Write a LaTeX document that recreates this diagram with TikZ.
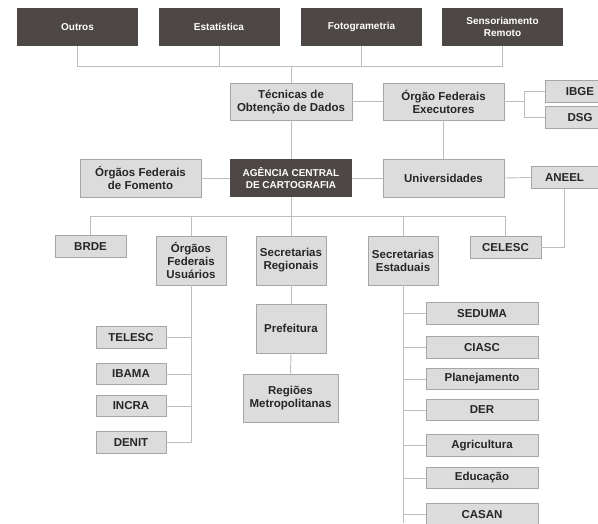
\documentclass[tikz,border=0pt]{standalone}
\usepackage{fontspec}
\setmainfont{Liberation Sans}
\usepackage{tikz}

\definecolor{boxdark}{HTML}{4D4846}
\definecolor{boxlight}{HTML}{DCDCDC}
\definecolor{boxedge}{HTML}{A6A6A6}
\definecolor{linegray}{HTML}{BDBDBD}
\definecolor{textdark}{HTML}{262626}

\tikzset{
  darkbox/.style={fill=boxdark, draw=none, text=white, align=center, inner sep=0pt,
    font=\bfseries\fontsize{10}{11.7}\selectfont, minimum width=121pt, minimum height=38pt},
  lightbox/.style={fill=boxlight, draw=boxedge, line width=0.8pt, text=textdark, align=center,
    inner sep=0pt, font=\bfseries\fontsize{11.5}{13}\selectfont},
  smallbox/.style={lightbox, minimum width=70pt, minimum height=21.5pt},
  link/.style={draw=linegray, line width=0.9pt}
}

\begin{document}
\begin{tikzpicture}[x=1pt, y=-1pt]
    % Fix the page to the reference size
    \useasboundingbox (0,0) rectangle (598,523);

    % Top row: data sources
    \node[darkbox] (outros) at (77.5,27) {Outros};
    \node[darkbox] (estat) at (219,27) {Estatística};
    \node[darkbox] (foto) at (361.5,27) {Fotogrametria};
    \node[darkbox] (sensor) at (502.5,27) {Sensoriamento\\Remoto};

    % Second level
    \node[lightbox, minimum width=122pt, minimum height=37pt] (tecnicas) at (291,101.5) {Técnicas de\\Obtenção de Dados};
    \node[lightbox, minimum width=121pt, minimum height=37pt] (executores) at (443.5,101.5) {Órgão Federais\\Executores};
    \node[smallbox] (ibge) at (580,91.5) {IBGE};
    \node[smallbox] (dsg) at (580,117.5) {DSG};

    % Central level
    \node[lightbox, minimum width=121pt, minimum height=38pt] (fomento) at (140.5,178) {Órgãos Federais\\de Fomento};
    \node[darkbox, minimum width=122pt] (agencia) at (291,178) {AGÊNCIA CENTRAL\\DE CARTOGRAFIA};
    \node[lightbox, minimum width=121pt, minimum height=38pt] (univ) at (443.5,178) {Universidades};
    \node[smallbox, minimum width=67pt] (aneel) at (564.5,177.5) {ANEEL};

    % Lower level
    \node[smallbox, minimum width=71pt] (brde) at (90.5,246.5) {BRDE};
    \node[lightbox, minimum width=70pt, minimum height=49pt] (usuarios) at (191,260.5) {Órgãos\\Federais\\Usuários};
    \node[lightbox, minimum width=70pt, minimum height=49pt] (secreg) at (291,260.5) {Secretarias\\Regionais};
    \node[lightbox, minimum width=70pt, minimum height=49pt] (secest) at (403,260.5) {Secretarias\\Estaduais};
    \node[smallbox, minimum width=71pt] (celesc) at (505.5,247.5) {CELESC};

    % Federal user agencies
    \node[smallbox] (telesc) at (131,337.5) {TELESC};
    \node[smallbox] (ibama) at (131,374) {IBAMA};
    \node[smallbox] (incra) at (131,406) {INCRA};
    \node[smallbox] (denit) at (131,442.5) {DENIT};

    % Regional offices
    \node[lightbox, minimum width=70pt, minimum height=49pt] (prefeitura) at (291,328.5) {Prefeitura};
    \node[lightbox, minimum width=95pt, minimum height=48pt] (regioes) at (290.5,398) {Regiões\\Metropolitanas};

    % State offices
    \node[smallbox, minimum width=112pt] (seduma) at (482,313.5) {SEDUMA};
    \node[smallbox, minimum width=112pt] (ciasc) at (482,347.5) {CIASC};
    \node[smallbox, minimum width=112pt] (planej) at (482,379) {Planejamento};
    \node[smallbox, minimum width=112pt] (der) at (482,410) {DER};
    \node[smallbox, minimum width=112pt] (agric) at (482,445.5) {Agricultura};
    \node[smallbox, minimum width=112pt] (educ) at (482,478) {Educação};
    \node[smallbox, minimum width=112pt] (casan) at (482,514.5) {CASAN};

    % Junction points of the connectors
    \coordinate (topbus) at (291,66);
    \coordinate (exefork) at (524,101.5);
    \coordinate (lowbus) at (291,216.5);
    \coordinate (secestend) at (403,523);

    % Connectors
    \foreach \src in {outros, estat, foto, sensor} {
        \draw[link] (\src.south) |- (topbus);
    }
    \draw[link] (topbus) -- (tecnicas.north);
    \draw[link] (tecnicas.east) -- (executores.west);
    \draw[link] (executores.east) -- (exefork);
    \draw[link] (exefork) |- (ibge.west);
    \draw[link] (exefork) |- (dsg.west);
    \draw[link] (executores.south) -- (univ.north);
    \draw[link] (tecnicas.south) -- (agencia.north);
    \draw[link] (fomento.east) -- (agencia.west);
    \draw[link] (agencia.east) -- (univ.west);
    \draw[link] (univ.east) -- (aneel.west);
    \draw[link] (aneel.south) |- (celesc.east);
    \draw[link] (agencia.south) -- (secreg.north);
    \foreach \dst in {brde, usuarios, secest, celesc} {
        \draw[link] (\dst.north) |- (lowbus);
    }
    \draw[link] (usuarios.south) |- (denit.east);
    \foreach \dst in {telesc, ibama, incra} {
        \draw[link] (\dst.east) -| (usuarios.south);
    }
    \draw[link] (secreg.south) -- (prefeitura.north);
    \draw[link] (prefeitura.south) -- (regioes.north);
    \draw[link] (secest.south) -- (secestend);
    \foreach \dst in {seduma, ciasc, planej, der, agric, educ, casan} {
        \draw[link] (\dst.west) -| (secest.south);
    }
\end{tikzpicture}
\end{document}
